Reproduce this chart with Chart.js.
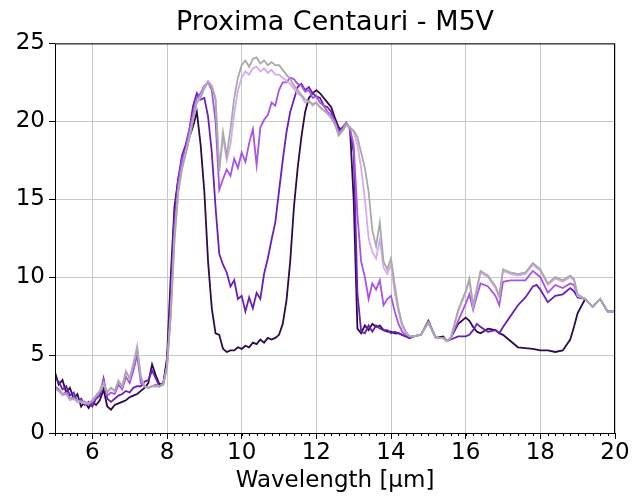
<!DOCTYPE html>
<html>
<head>
<meta charset="utf-8">
<script src="https://cdn.jsdelivr.net/npm/chart.js@4/dist/chart.umd.min.js"></script>
<style>
  html, body { margin: 0; padding: 0; background: #fff; }
  #wrap { width: 634px; height: 497px; }
</style>
</head>
<body>
<div id="wrap"><canvas id="myCanvas" width="634" height="497"></canvas></div>
<script>
// wavelength grid (um)
const wavelength = [
  5.0, 5.1, 5.2, 5.3, 5.4, 5.5, 5.6, 5.7, 5.8, 5.9,
  6.0, 6.1, 6.2, 6.3, 6.4, 6.5, 6.6, 6.7, 6.8, 6.9,
  7.0, 7.1, 7.2, 7.3, 7.4, 7.5, 7.6, 7.7, 7.8, 7.9, 8.0,
  8.1, 8.2, 8.3, 8.4, 8.5, 8.6, 8.7, 8.8, 8.9,
  9.0, 9.1, 9.2, 9.3, 9.4, 9.5, 9.6, 9.7, 9.8, 9.9,
  10.0, 10.1, 10.2, 10.3, 10.4, 10.5, 10.6, 10.7, 10.8, 10.9,
  11.0, 11.1, 11.2, 11.3, 11.4, 11.5, 11.6, 11.7, 11.8, 11.9,
  12.0, 12.1, 12.2, 12.3, 12.4, 12.5, 12.6, 12.7, 12.8, 12.9,
  13.0, 13.1, 13.2, 13.3, 13.4, 13.5, 13.6, 13.7, 13.8, 13.9,
  14.0, 14.1, 14.2, 14.3, 14.4, 14.5, 14.6,
  14.8, 15.0, 15.2, 15.4, 15.5, 15.6, 15.8,
  16.0, 16.1, 16.2, 16.3, 16.4, 16.6, 16.8, 16.9, 17.0,
  17.2, 17.4, 17.6, 17.8, 17.9, 18.0, 18.2, 18.4, 18.6,
  18.8, 18.9, 19.0, 19.2, 19.4, 19.6, 19.8, 20.0
];

const grayLine = [
  2.9, 2.7, 2.5, 2.5, 2.2, 2.2, 2.1, 2.0, 2.0, 1.9,
  2.1, 2.4, 2.7, 3.2, 2.6, 2.9, 2.7, 3.3, 3.0, 3.9,
  3.5, 4.4, 5.4, 3.6, 3.0, 2.9, 3.0, 3.0, 3.0, 3.1, 4.2,
  7.5, 12.3, 15.4, 16.9, 17.9, 18.9, 20.1, 21.2, 21.5,
  22.1, 22.5, 22.2, 21.4, 16.8, 19.3, 17.8, 19.5, 21.5, 22.8,
  23.6, 23.9, 23.5, 24.0, 24.1, 23.7, 23.9, 23.6, 23.8, 23.6,
  23.6, 23.3, 23.0, 22.7, 22.3, 22.0, 21.7, 21.4, 21.3, 21.1,
  21.2, 20.9, 20.7, 20.5, 20.2, 19.8, 19.1, 19.4, 19.8, 19.6,
  19.4, 19.0, 18.0, 17.0, 15.5, 13.0, 12.0, 13.5, 11.0, 10.5,
  11.2, 9.5, 8.0, 7.0, 6.5, 6.2, 6.2,
  6.3, 7.1, 6.1, 6.1, 5.9, 6.1, 7.9,
  9.1, 9.9, 8.2, 9.3, 10.4, 10.1, 9.4, 8.8, 10.5,
  10.3, 10.2, 10.3, 10.9, 10.7, 10.5, 9.6, 10.0, 9.8,
  10.1, 9.9, 8.9, 8.6, 8.1, 8.6, 7.8, 7.8
];

const lightLine = [
  2.8, 2.7, 2.4, 2.5, 2.1, 2.2, 2.0, 2.0, 1.9, 1.9,
  2.1, 2.4, 2.7, 3.2, 2.6, 2.9, 2.7, 3.4, 3.0, 4.0,
  3.5, 4.5, 5.6, 3.6, 3.0, 2.9, 3.0, 3.0, 3.0, 3.1, 4.2,
  7.5, 12.5, 15.5, 17.0, 18.0, 19.0, 20.2, 21.3, 21.6,
  22.2, 22.6, 22.3, 21.5, 17.0, 19.0, 17.5, 18.5, 20.5, 22.0,
  22.8, 23.2, 23.0, 23.4, 23.5, 23.2, 23.4, 23.1, 23.3, 23.0,
  23.0, 22.8, 22.6, 22.4, 22.1, 21.8, 21.6, 21.2, 21.3, 21.0,
  21.2, 20.9, 20.7, 20.5, 20.2, 19.8, 19.1, 19.4, 19.8, 19.6,
  19.3, 18.5, 17.0, 15.0, 12.5, 11.6, 11.2, 12.4, 10.6, 10.2,
  10.8, 9.0, 7.8, 6.8, 6.4, 6.2, 6.2,
  6.3, 7.1, 6.1, 6.1, 5.9, 6.1, 7.8,
  9.0, 9.8, 8.1, 9.2, 10.3, 10.0, 9.3, 8.7, 10.4,
  10.2, 10.1, 10.2, 10.8, 10.6, 10.4, 9.5, 9.9, 9.7,
  10.0, 9.8, 8.8, 8.6, 8.1, 8.6, 7.8, 7.8
];

const mediumLine = [
  3.0, 2.8, 2.5, 2.6, 2.2, 2.3, 2.0, 2.1, 1.9, 1.8,
  2.0, 2.3, 2.6, 3.4, 2.4, 2.6, 2.5, 3.1, 2.8, 3.6,
  3.2, 4.0, 5.0, 3.2, 3.0, 2.9, 3.0, 3.1, 3.0, 3.2, 4.3,
  8.0, 13.0, 16.0, 17.5, 18.2, 19.5, 20.5, 21.5, 21.8,
  22.3, 22.5, 22.0, 20.0, 15.6, 16.3, 16.9, 16.5, 17.6, 17.0,
  18.0, 17.4, 18.6, 19.5, 17.2, 19.6, 20.1, 20.4, 21.2, 21.0,
  22.0, 22.5, 22.5, 22.8, 22.7, 22.4, 22.3, 21.9, 22.0, 21.5,
  21.6, 21.2, 21.0, 20.6, 20.4, 20.0, 19.3, 19.5, 19.9, 19.5,
  18.5, 14.0, 11.0, 10.0, 8.6, 9.6, 9.2, 9.8, 8.2, 8.6,
  8.8, 7.8, 7.0, 6.5, 6.3, 6.2, 6.2,
  6.3, 7.1, 6.1, 6.1, 5.9, 6.1, 7.2,
  8.3, 8.9, 7.9, 8.8, 9.6, 9.4, 8.8, 8.2, 9.7,
  9.8, 9.8, 9.8, 10.4, 10.2, 10.0, 9.0, 9.5, 9.3,
  9.6, 9.5, 8.8, 8.6, 8.1, 8.6, 7.8, 7.8
];

const purpleLine = [
  3.5, 3.3, 2.8, 3.0, 2.4, 2.6, 2.0, 2.2, 1.8, 2.0,
  1.7, 2.2, 2.4, 3.5, 2.2, 2.0, 2.2, 2.4, 2.5, 2.7,
  2.6, 2.9, 3.0, 3.0, 3.3, 3.4, 4.0, 3.5, 3.0, 3.1, 4.4,
  9.0, 14.0, 16.3, 17.8, 18.5, 19.5, 21.0, 21.8, 21.4,
  21.5, 20.3, 18.0, 14.5, 11.5, 10.8, 10.3, 9.4, 9.8, 8.6,
  8.8, 7.8, 8.7, 8.0, 9.0, 8.6, 10.2, 11.2, 12.4, 13.5,
  15.5, 17.5, 19.3, 20.6, 21.4, 22.2, 22.4, 22.0, 22.2, 21.8,
  21.6, 21.5, 21.0, 20.9, 20.6, 20.0, 19.4, 19.6, 19.9, 19.5,
  18.0, 9.0, 6.5, 6.4, 6.9, 6.5, 6.9, 6.7, 6.6, 6.6,
  6.4, 6.5, 6.4, 6.3, 6.2, 6.1, 6.2,
  6.3, 7.1, 6.1, 6.1, 5.9, 6.0, 6.2,
  6.2, 6.3, 6.6, 7.0, 6.8, 6.5, 6.6, 6.4, 6.8,
  7.5, 8.2, 8.7, 9.4, 9.5, 9.2, 8.4, 8.8, 8.9,
  9.3, 9.1, 8.7, 8.6, 8.1, 8.6, 7.8, 7.8
];

const darkLine = [
  3.9, 3.1, 3.4, 2.6, 2.9, 2.2, 2.5, 1.7, 2.0, 1.6,
  2.0, 1.8, 2.1, 2.8, 1.7, 1.5, 1.8, 1.9, 2.0, 2.1,
  2.3, 2.4, 2.5, 2.7, 2.9, 3.2, 4.4, 3.7, 3.1, 3.2, 4.8,
  10.0, 14.5, 16.3, 17.2, 18.0, 19.0, 19.7, 20.6, 18.5,
  15.5, 11.0, 8.0, 6.4, 6.3, 5.4, 5.2, 5.3, 5.3, 5.5,
  5.4, 5.6, 5.5, 5.8, 5.7, 6.0, 5.8, 6.1, 6.0, 6.1,
  6.3, 7.0, 8.5, 11.0, 14.5, 17.0, 19.0, 20.6, 21.5, 21.8,
  22.0, 21.8, 21.5, 21.2, 20.9, 20.2, 19.6, 19.4, 19.8, 19.6,
  15.0, 6.7, 6.4, 6.9, 6.6, 7.0, 6.8, 6.9, 6.6, 6.5,
  6.5, 6.4, 6.4, 6.3, 6.2, 6.1, 6.2,
  6.3, 7.2, 6.1, 6.2, 5.9, 6.1, 7.0,
  7.4, 7.2, 6.8, 6.5, 6.4, 6.7, 6.6, 6.4, 6.3,
  5.9, 5.5, 5.45, 5.4, 5.35, 5.3, 5.3, 5.2, 5.3,
  6.0, 6.8, 7.7, 8.6, 8.1, 8.6, 7.8, 7.8
];

const xTicks = [6, 8, 10, 12, 14, 16, 18, 20];
const yTicks = [0, 5, 10, 15, 20, 25];

function toPoints(ys) {
  return wavelength.map((x, i) => ({ x: x, y: ys[i] }));
}

function lineSet(ys, color) {
  return {
    data: toPoints(ys),
    borderColor: color,
    borderWidth: 1.8,
    pointRadius: 0,
    tension: 0,
    fill: false
  };
}

// box around the axes + small minor ticks on the x axis
const framePlugin = {
  id: "frame",
  afterDraw(chart) {
    const ctx = chart.ctx;
    const a = chart.chartArea;
    const x = chart.scales.x;
    ctx.save();
    ctx.strokeStyle = "#000";
    ctx.lineWidth = 1;
    ctx.strokeRect(a.left + 0.5, a.top + 0.5, a.right - a.left - 1, a.bottom - a.top);
    ctx.beginPath();
    for (let v = 50; v <= 200; v += 2) {
      const px = Math.round(x.getPixelForValue(v / 10)) + 0.5;
      ctx.moveTo(px, a.bottom);
      ctx.lineTo(px, a.bottom + 3);
    }
    ctx.stroke();
    ctx.restore();
  }
};

const font = "'DejaVu Sans', sans-serif";

new Chart(document.getElementById("myCanvas").getContext("2d"), {
  type: "line",
  data: {
    datasets: [
      lineSet(grayLine, "#a9a9a9"),
      lineSet(lightLine, "#d7a9f2"),
      lineSet(mediumLine, "#a653ea"),
      lineSet(purpleLine, "#6a1fb8"),
      lineSet(darkLine, "#2e0a48")
    ]
  },
  options: {
    responsive: false,
    animation: false,
    layout: { padding: { left: 0, right: 19, top: 0, bottom: 0 } },
    plugins: {
      legend: { display: false },
      tooltip: { enabled: false },
      title: {
        display: true,
        text: "Proxima Centauri - M5V",
        fullSize: false,
        color: "#000",
        font: { family: font, size: 27, weight: "normal" },
        padding: { top: 7, bottom: 4 }
      }
    },
    scales: {
      x: {
        type: "linear",
        min: 5,
        max: 20,
        afterBuildTicks: (s) => { s.ticks = xTicks.map(v => ({ value: v })); },
        afterFit: (s) => { s.height = 64; },
        grid: { color: "#c8c8c8", lineWidth: 1, tickColor: "#000", tickLength: 6 },
        border: { display: false },
        ticks: { color: "#000", font: { family: font, size: 23 }, padding: 0, maxRotation: 0 },
        title: {
          display: true,
          text: "Wavelength [μm]",
          color: "#000",
          font: { family: font, size: 23 },
          padding: { top: 0, bottom: 2 }
        }
      },
      y: {
        min: 0,
        max: 25,
        afterBuildTicks: (s) => { s.ticks = yTicks.map(v => ({ value: v })); },
        afterFit: (s) => { s.width = 55; },
        grid: { color: "#c8c8c8", lineWidth: 1, tickColor: "#000", tickLength: 6 },
        border: { display: false },
        ticks: { color: "#000", font: { family: font, size: 23 }, padding: 4 }
      }
    }
  },
  plugins: [framePlugin]
});
</script>
</body>
</html>
